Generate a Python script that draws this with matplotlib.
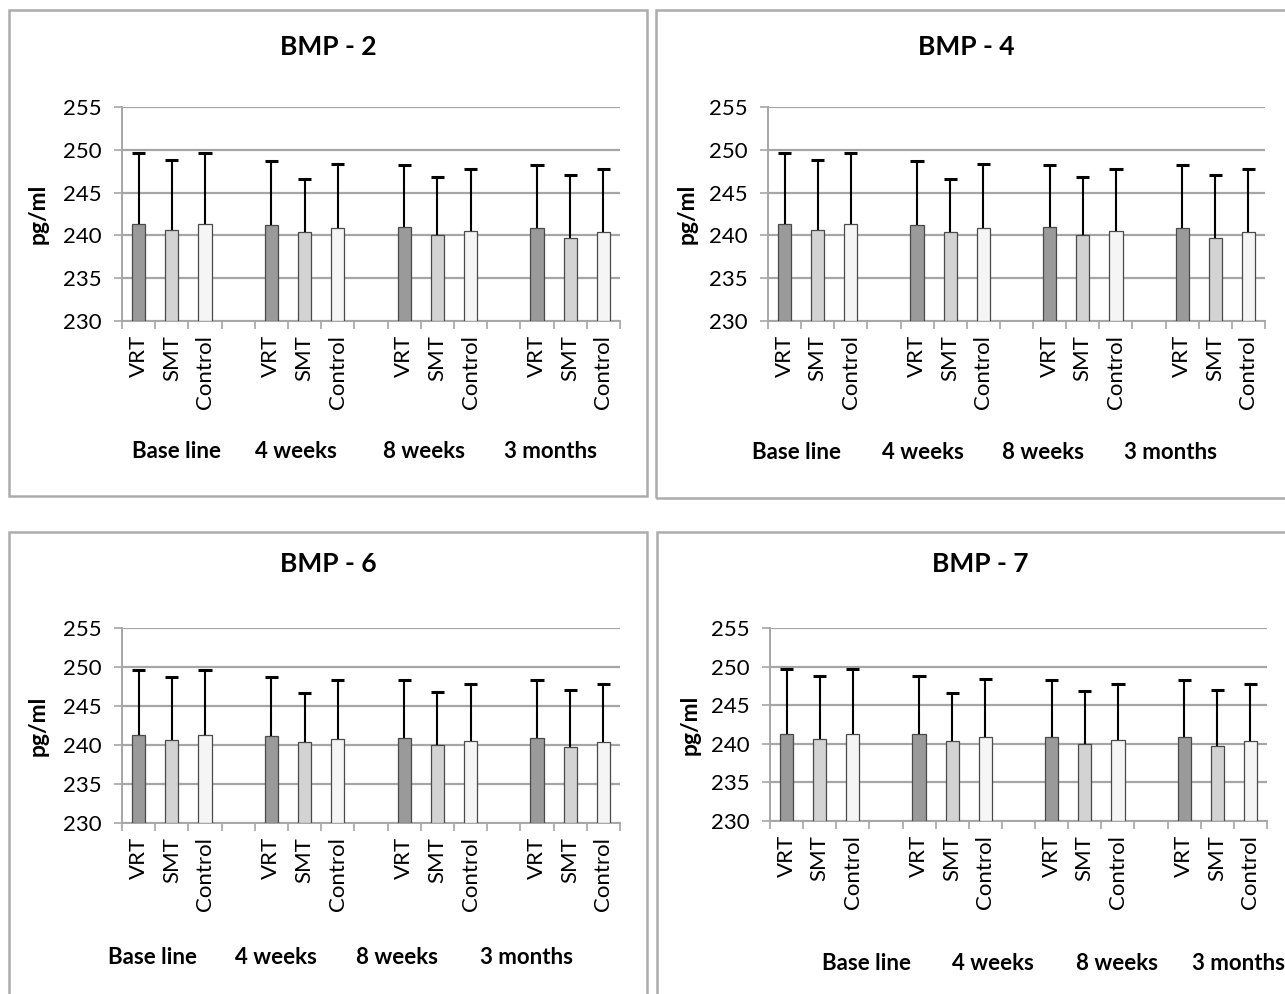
import matplotlib.pyplot as plt
from matplotlib.patches import Rectangle
import numpy as np

plt.rcParams['font.family'] = ['Lato', 'DejaVu Sans']

# data (same readings in all four panels)
groups = ['Base line', '4 weeks', '8 weeks', '3 months']
series = ['VRT', 'SMT', 'Control']
vrt_mean = [241.33, 241.21, 240.93, 240.85]
smt_mean = [240.62, 240.34, 240.0, 239.68]
ctrl_mean = [241.33, 240.82, 240.5, 240.34]
vrt_err = [8.3, 7.53, 7.34, 7.42]
smt_err = [8.16, 6.27, 6.78, 7.33]
ctrl_err = [8.3, 7.52, 7.3, 7.42]
panel_titles = ['BMP - 2', 'BMP - 4', 'BMP - 6', 'BMP - 7']
y_ticks = [230, 235, 240, 245, 250, 255]

colors = ['#9a9a9a', '#d2d3d2', '#f4f5f4']

W, H = 1285, 994
fig = plt.figure(figsize=(W / 100, H / 100), dpi=100)


def fig_box(x0, y0, x1, y1):
    # pixel box (top-left origin) -> figure fraction [left, bottom, width, height]
    return [x0 / W, 1 - y1 / H, (x1 - x0) / W, (y1 - y0) / H]


def px(x, y):
    return x / W, 1 - y / H


# panel layout: frame, axes, title, ylabel x, group label x's, group label y
panels = [
    dict(frame=(9, 10, 647, 496), ax=(122, 107, 620, 321), title=(328, 47),
         ylab=38, gx=[176, 296, 424, 550], gy=452),
    dict(frame=(656, 10, 1296, 498), ax=(768, 107, 1265, 321), title=(966, 47),
         ylab=687, gx=[797, 923, 1043, 1170], gy=453),
    dict(frame=(9, 532, 647, 1010), ax=(122, 628, 620, 823), title=(328, 564),
         ylab=38, gx=[152, 276, 397, 526], gy=957),
    dict(frame=(657, 532, 1296, 1010), ax=(770, 628, 1267, 821), title=(980, 564),
         ylab=690, gx=[866, 993, 1117, 1238], gy=964),
]

means = [vrt_mean, smt_mean, ctrl_mean]
errs = [vrt_err, smt_err, ctrl_err]
grid_col = '#a6a6a6'

for p, title in zip(panels, panel_titles):
    fx0, fy0, fx1, fy1 = p['frame']
    fig.patches.append(Rectangle(px(fx0, fy1), (fx1 - fx0) / W, (fy1 - fy0) / H,
                                 transform=fig.transFigure, fill=False,
                                 edgecolor='#acacac', linewidth=1.8, zorder=0))

    ax = fig.add_axes(fig_box(*p['ax']))
    labels = []
    centers = []
    for gi in range(len(groups)):
        for si in range(len(series)):
            xpos = gi * 4 + si
            centers.append(xpos)
            labels.append(series[si])
            ax.bar(xpos, means[si][gi] - 230, bottom=230, width=0.4,
                   color=colors[si], edgecolor='#4a4a4a', linewidth=0.9, zorder=3)
            top = means[si][gi] + errs[si][gi]
            ax.vlines(xpos, means[si][gi], top, color='black', linewidth=1.5, zorder=4)
            ax.plot([xpos - 0.2, xpos + 0.2], [top, top], color='black',
                    linewidth=2.2, solid_capstyle='butt', zorder=4)

    ax.set_xlim(-0.5, 14.5)
    ax.set_ylim(230, 255)
    ax.set_yticks(y_ticks)
    ax.set_xticks(centers)
    ax.set_xticklabels(labels, rotation=90, fontsize=16)
    ax.set_xticks(np.arange(-0.5, 15, 1), minor=True)
    ax.tick_params(axis='x', which='major', length=0, pad=10)
    ax.tick_params(axis='x', which='minor', length=6, color=grid_col, width=1.2)
    ax.tick_params(axis='y', length=6, color=grid_col, width=1.2, labelsize=16, pad=9)
    ax.yaxis.grid(True, color=grid_col, linewidth=1.6, zorder=0)
    ax.set_axisbelow(True)
    for s in ['top', 'right']:
        ax.spines[s].set_visible(False)
    for s in ['left', 'bottom']:
        ax.spines[s].set_color(grid_col)
        ax.spines[s].set_linewidth(1.4)

    tx, ty = p['title']
    fig.text(*px(tx, ty), title, ha='center', va='center', fontsize=19, fontweight='bold')
    ay0, ay1 = p['ax'][1], p['ax'][3]
    fig.text(*px(p['ylab'], (ay0 + ay1) / 2), 'pg/ml', rotation=90, ha='center',
             va='center', fontsize=16.5, fontweight='bold')
    for g, gxx in zip(groups, p['gx']):
        fig.text(*px(gxx, p['gy']), g, ha='center', va='center', fontsize=16,
                 fontweight='bold')

fig.savefig('out.png', dpi=100)
